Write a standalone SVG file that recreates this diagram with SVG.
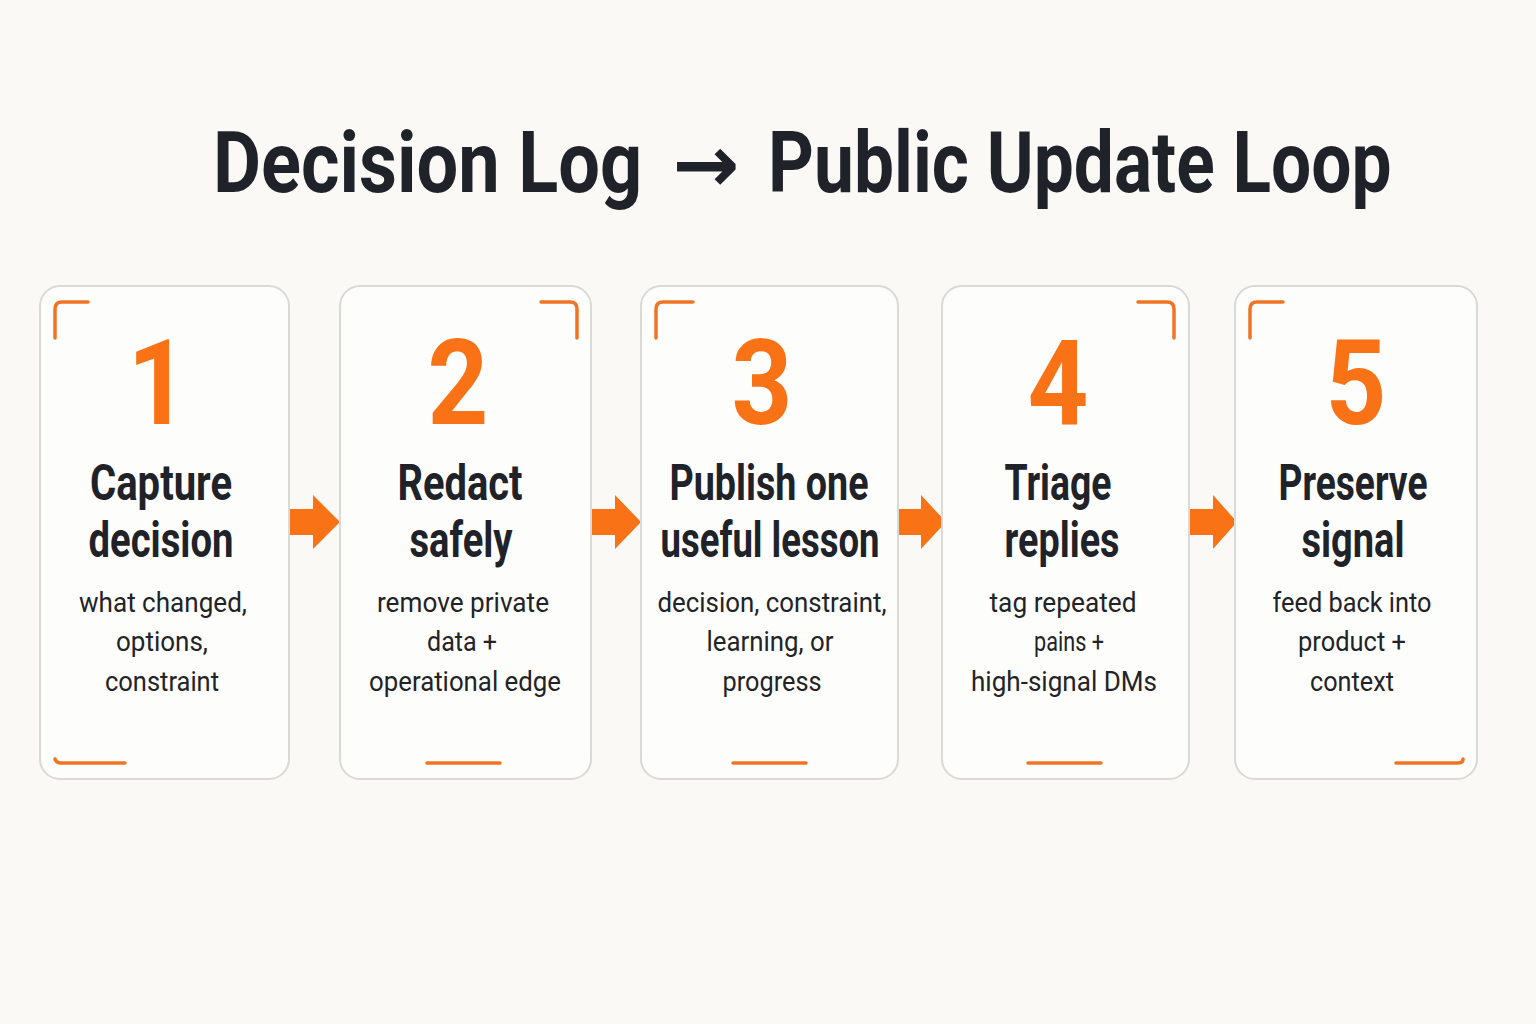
<svg xmlns="http://www.w3.org/2000/svg" width="1536" height="1024" viewBox="0 0 1536 1024">
<style>
.card{fill:#fdfdfc;stroke:#d9d9d6;stroke-width:2}
.br{fill:none;stroke:#f07424;stroke-width:3.5;stroke-linecap:round}
.num{font-family:Roboto,"Liberation Sans",sans-serif;font-weight:700;font-size:118px;fill:#f97316;text-anchor:middle}
.ttl{font-family:Roboto,"Liberation Sans",sans-serif;font-weight:700;font-size:50px;fill:#1f2329;text-anchor:middle}
.dsc{font-family:Roboto,"Liberation Sans",sans-serif;font-weight:400;font-size:28px;fill:#222326;text-anchor:middle}
.hd{font-family:Roboto,"Liberation Sans",sans-serif;font-weight:700;font-size:86px;fill:#1f2329}
.arr{fill:#f97316}
</style>
<rect width="1536" height="1024" fill="#faf9f5"/>
<g id="title">
<text class="hd" x="0" y="0" transform="translate(213,192) scale(0.867,1)" textLength="495" lengthAdjust="spacingAndGlyphs">Decision Log</text>
<text x="706" y="192" font-family="'DejaVu Sans',sans-serif" font-weight="700" font-size="80" fill="#1f2329" text-anchor="middle">→</text>
<text class="hd" x="0" y="0" transform="translate(768,192) scale(0.836,1)" textLength="746" lengthAdjust="spacingAndGlyphs">Public Update Loop</text>
</g>

<g id="connectors">
<polygon class="arr" points="290,509 313,509 313,495 340,522 313,549 313,535 290,535"/>
<polygon class="arr" points="592,509 615,509 615,495 641,522 615,549 615,535 592,535"/>
<polygon class="arr" points="899,509 921,509 921,495 946,522 921,549 921,535 899,535"/>
<polygon class="arr" points="1190,509 1213,509 1213,495 1237,522 1213,549 1213,535 1190,535"/>
</g>

<g id="node1">
<rect class="card" x="40" y="286" width="249" height="493" rx="20"/>
<path class="br" d="M55,338 V309 Q55,302 62,302 H88"/>
<path class="br" d="M55,759 Q56,763 61,763 H125"/>
<text class="num" x="158" y="424" transform="translate(158,0) scale(0.9,1) translate(-158,0)">1</text>
<text class="ttl" x="161" y="500" textLength="142" lengthAdjust="spacingAndGlyphs">Capture</text>
<text class="ttl" x="161" y="557" textLength="145" lengthAdjust="spacingAndGlyphs">decision</text>
<text class="dsc" x="163" y="612" textLength="168" lengthAdjust="spacingAndGlyphs">what changed,</text>
<text class="dsc" x="162" y="651" textLength="92" lengthAdjust="spacingAndGlyphs">options,</text>
<text class="dsc" x="162" y="691" textLength="114" lengthAdjust="spacingAndGlyphs">constraint</text>
</g>

<g id="node2">
<rect class="card" x="340" y="286" width="251" height="493" rx="20"/>
<path class="br" d="M541,302 H570 Q577,302 577,309 V338"/>
<path class="br" d="M427,763 H500"/>
<text class="num" x="458" y="424" transform="translate(458,0) scale(0.9,1) translate(-458,0)">2</text>
<text class="ttl" x="460" y="500" textLength="125" lengthAdjust="spacingAndGlyphs">Redact</text>
<text class="ttl" x="461" y="557" textLength="103" lengthAdjust="spacingAndGlyphs">safely</text>
<text class="dsc" x="463" y="612" textLength="172" lengthAdjust="spacingAndGlyphs">remove private</text>
<text class="dsc" x="462" y="651" textLength="70" lengthAdjust="spacingAndGlyphs">data +</text>
<text class="dsc" x="465" y="691" textLength="192" lengthAdjust="spacingAndGlyphs">operational edge</text>
</g>

<g id="node3">
<rect class="card" x="641" y="286" width="257" height="493" rx="20"/>
<path class="br" d="M656,338 V309 Q656,302 663,302 H693"/>
<path class="br" d="M733,763 H806"/>
<text class="num" x="762" y="424" transform="translate(762,0) scale(0.9,1) translate(-762,0)">3</text>
<text class="ttl" x="769" y="500" textLength="199" lengthAdjust="spacingAndGlyphs">Publish one</text>
<text class="ttl" x="770" y="557" textLength="219" lengthAdjust="spacingAndGlyphs">useful lesson</text>
<text class="dsc" x="772" y="612" textLength="229" lengthAdjust="spacingAndGlyphs">decision, constraint,</text>
<text class="dsc" x="770" y="651" textLength="127" lengthAdjust="spacingAndGlyphs">learning, or</text>
<text class="dsc" x="772" y="691" textLength="99" lengthAdjust="spacingAndGlyphs">progress</text>
</g>

<g id="node4">
<rect class="card" x="942" y="286" width="247" height="493" rx="20"/>
<path class="br" d="M1138,302 H1167 Q1174,302 1174,309 V338"/>
<path class="br" d="M1028,763 H1101"/>
<text class="num" x="1058" y="424" transform="translate(1058,0) scale(0.9,1) translate(-1058,0)">4</text>
<text class="ttl" x="1058" y="500" textLength="107" lengthAdjust="spacingAndGlyphs">Triage</text>
<text class="ttl" x="1062" y="557" textLength="115" lengthAdjust="spacingAndGlyphs">replies</text>
<text class="dsc" x="1063" y="612" textLength="147" lengthAdjust="spacingAndGlyphs">tag repeated</text>
<text class="dsc" x="1069" y="651" textLength="70" lengthAdjust="spacingAndGlyphs">pains +</text>
<text class="dsc" x="1064" y="691" textLength="186" lengthAdjust="spacingAndGlyphs">high-signal DMs</text>
</g>

<g id="node5">
<rect class="card" x="1235" y="286" width="242" height="493" rx="20"/>
<path class="br" d="M1250,338 V309 Q1250,302 1257,302 H1283"/>
<path class="br" d="M1396,763 H1458 Q1463,763 1463,759"/>
<text class="num" x="1356" y="424" transform="translate(1356,0) scale(0.9,1) translate(-1356,0)">5</text>
<text class="ttl" x="1353" y="500" textLength="149" lengthAdjust="spacingAndGlyphs">Preserve</text>
<text class="ttl" x="1353" y="557" textLength="103" lengthAdjust="spacingAndGlyphs">signal</text>
<text class="dsc" x="1352" y="612" textLength="159" lengthAdjust="spacingAndGlyphs">feed back into</text>
<text class="dsc" x="1352" y="651" textLength="108" lengthAdjust="spacingAndGlyphs">product +</text>
<text class="dsc" x="1352" y="691" textLength="84" lengthAdjust="spacingAndGlyphs">context</text>
</g>
</svg>
